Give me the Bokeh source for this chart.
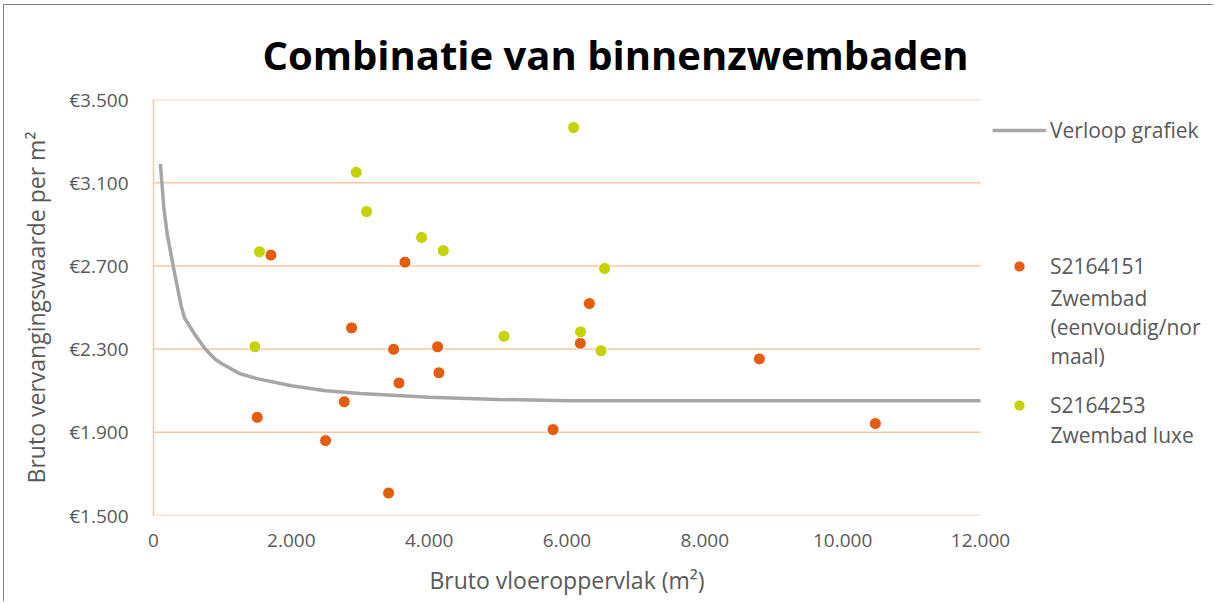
from bokeh.plotting import figure
from bokeh.models import (Range1d, FixedTicker, Legend, LegendItem, Label,
                          InlineStyleSheet)
from bokeh.embed import file_html
from bokeh.resources import INLINE

# ---------------- data ----------------
title = "Combinatie van binnenzwembaden"
x_label = "Bruto vloeroppervlak (m²)"
y_label = "Bruto vervangingswaarde per m²"

normaal_name = "S2164151"
normaal_x = [1704, 3649, 2874, 3484, 4122, 4142, 3562, 2768, 1505, 2497,
             3411, 5797, 6193, 6324, 8791, 10474]
normaal_y = [2752, 2718, 2402, 2299, 2311, 2186, 2137, 2047, 1972, 1860,
             1608, 1913, 2328, 2519, 2253, 1942]
normaal_extra = ["Zwembad", "(eenvoudig/nor", "maal)"]

luxe_name = "S2164253"
luxe_x = [1538, 1472, 2942, 3092, 3890, 4205, 5086, 6096, 6197, 6546, 6493]
luxe_y = [2768, 2311, 3150, 2961, 2837, 2773, 2362, 3365, 2383, 2688, 2292]
luxe_extra = ["Zwembad luxe"]

curve_name = "Verloop grafiek"
curve_x = [100, 150, 200, 300, 400, 450, 600, 750, 900, 1000, 1250, 1500,
           2000, 2500, 3000, 4000, 5000, 6000, 12000]
curve_y = [3190, 2980, 2850, 2675, 2510, 2450, 2370, 2300, 2250, 2228, 2182,
           2158, 2124, 2100, 2087, 2068, 2058, 2052, 2052]

x_ticks = [0, 2000, 4000, 6000, 8000, 10000, 12000]
x_tick_labels = ["0", "2.000", "4.000", "6.000", "8.000", "10.000", "12.000"]
y_ticks = [1500, 1900, 2300, 2700, 3100, 3500]
y_tick_labels = ["€1.500", "€1.900", "€2.300", "€2.700", "€3.100", "€3.500"]

# ---------------- style / layout ----------------
FONT = "Open Sans"
GRID = "#F8C6A4"
ORANGE = "#E45D0F"
GREEN = "#C5D300"
GRAY = "#A6A6A6"
TEXT = "#595959"

W, H = 1213, 601
LEFT, TOP, PLOT_RIGHT, BOTTOM = 153, 99, 980, 515
frame_w = W - LEFT
frame_h = BOTTOM - TOP
x_max = x_ticks[-1]
x_end = x_max * frame_w / (PLOT_RIGHT - LEFT)

p = figure(width=W, height=H, output_backend="svg", toolbar_location=None,
           x_range=Range1d(0, x_end), y_range=Range1d(y_ticks[0], y_ticks[-1]),
           min_border_left=LEFT, min_border_right=0,
           min_border_top=TOP, min_border_bottom=H - BOTTOM)
p.stylesheets = [InlineStyleSheet(css="""
:host { position: relative; }
:host::after { content: ''; position: absolute; left: 3px; top: 4px;
  right: 0px; bottom: 0px; border-left: 1px solid #7f7f7f;
  border-top: 1px solid #7f7f7f; pointer-events: none; }
""")]

p.outline_line_color = None
p.background_fill_color = "white"
p.border_fill_color = "white"

p.title.text = title
p.title.align = "left"
p.title.offset = 109
p.title.text_font = FONT
p.title.text_font_style = "bold"
p.title.text_font_size = "40px"
p.title.text_color = "black"
p.title.standoff = 36

p.xaxis.ticker = FixedTicker(ticks=x_ticks)
p.xaxis.major_label_overrides = {t: s for t, s in zip(x_ticks, x_tick_labels)}
p.yaxis.ticker = FixedTicker(ticks=y_ticks)
p.yaxis.major_label_overrides = {t: s for t, s in zip(y_ticks, y_tick_labels)}

for ax in (p.xaxis[0], p.yaxis[0]):
    ax.major_tick_line_color = None
    ax.minor_tick_line_color = None
    ax.major_label_text_font = FONT
    ax.major_label_text_font_size = "19px"
    ax.major_label_text_color = TEXT
    ax.axis_label_text_font = FONT
    ax.axis_label_text_font_size = "23px"
    ax.axis_label_text_font_style = "normal"
    ax.axis_label_text_color = TEXT

p.xaxis.axis_line_color = None
p.yaxis.axis_line_color = GRID
p.yaxis.axis_line_width = 1.5

p.yaxis.axis_label = y_label
p.xaxis.major_label_standoff = 12
p.yaxis.major_label_standoff = 19
p.yaxis.axis_label_standoff = 14

# x-axis title as a label in the bottom panel, centred under the data area
p.add_layout(Label(x=(PLOT_RIGHT - LEFT) / 2, y=2, x_units="screen",
                   y_units="screen", text=x_label, text_font=FONT,
                   text_font_size="23px", text_color=TEXT,
                   text_align="center", text_baseline="middle"), "below")

p.xgrid.grid_line_color = None
p.ygrid.grid_line_color = None

# horizontal gridlines across the data range only
p.segment(x0=[0] * len(y_ticks), y0=y_ticks, x1=[x_max] * len(y_ticks), y1=y_ticks,
          line_color=GRID, line_width=1.5)

r_line = p.line(curve_x, curve_y, line_color=GRAY, line_width=3.5)
r_norm = p.scatter(normaal_x, normaal_y, size=12, fill_color=ORANGE,
                   line_color="white", line_width=1)
r_luxe = p.scatter(luxe_x, luxe_y, size=12, fill_color=GREEN,
                   line_color="white", line_width=1)

GH = 28


def make_legend(label, renderer, loc):
    lg = Legend(items=[LegendItem(label=label, renderers=[renderer])],
                location=loc, orientation="vertical",
                glyph_width=54, glyph_height=GH, label_height=GH,
                label_standoff=4, padding=0, margin=0, spacing=0,
                border_line_color=None, background_fill_alpha=0,
                label_text_font=FONT, label_text_font_size="21px",
                label_text_color=TEXT, label_text_baseline="middle")
    p.add_layout(lg, "center")


leg_x = 992 - LEFT
make_legend(curve_name, r_line, (leg_x, frame_h - (130 - TOP) - GH / 2))
make_legend(normaal_name, r_norm, (leg_x, frame_h - (266 - TOP) - GH / 2))
make_legend(luxe_name, r_luxe, (leg_x, frame_h - (405 - TOP) - GH / 2))

text_x = 1050 - LEFT
for txt, yy in zip(normaal_extra + luxe_extra, [297, 326.5, 355.5, 434]):
    p.add_layout(Label(x=text_x, y=frame_h - (yy - TOP), x_units="screen",
                       y_units="screen", text=txt, text_font=FONT,
                       text_font_size="21px", text_color=TEXT,
                       text_baseline="middle"))

open("out.html", "w").write(file_html(p, INLINE))
